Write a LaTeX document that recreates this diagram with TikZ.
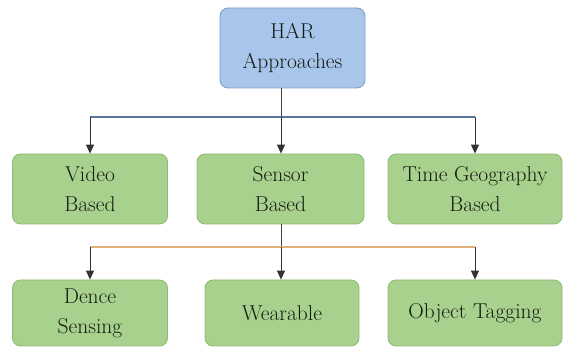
\documentclass[tikz,border=0pt]{standalone}
\usepackage{amsmath}
\usepackage{tikz}
\usetikzlibrary{arrows.meta}
\usepackage{xcolor}

\definecolor{bleuFond}{HTML}{A8C6EC}
\definecolor{bleuBord}{HTML}{7E9CC4}
\definecolor{vertFond}{HTML}{A9D18E}
\definecolor{vertBord}{HTML}{8DB872}
\definecolor{bleuTrait}{HTML}{58769F}
\definecolor{orangeTrait}{HTML}{E2AE7C}
\definecolor{texte}{HTML}{141C14}

\tikzset{
  boite/.style={rounded corners=8pt, line width=0.8pt, align=center,
    inner sep=0pt, text=texte, font=\fontsize{21.5}{30}\selectfont},
  racine/.style={boite, fill=bleuFond, draw=bleuBord},
  feuille/.style={boite, fill=vertFond, draw=vertBord},
  fleche/.style={-{Triangle[length=9pt, width=8pt]}, line width=1pt, draw=black!80},
  trait/.style={line width=1pt, draw=black!75}
}

\begin{document}
\begin{tikzpicture}[x=1pt, y=1pt]
                % Cadre
                \useasboundingbox (0,0) rectangle (563,-347);

                % Racine
                \node[racine, minimum width=145pt, minimum height=80pt] (har) at (292.5,-48) {HAR\\Approaches};

                % Premier niveau
                \node[feuille, minimum width=155pt, minimum height=70pt] (video) at (90,-189) {Video\\Based};
                \node[feuille, minimum width=167pt, minimum height=70pt] (sensor) at (280.5,-189) {Sensor\\Based};
                \node[feuille, minimum width=174pt, minimum height=70pt] (tgeo) at (475,-189) {Time Geography\\Based};

                % Second niveau
                \node[feuille, minimum width=155pt, minimum height=66pt] (dence) at (90,-313) {Dence\\Sensing};
                \node[feuille, minimum width=154pt, minimum height=66pt] (wear) at (282,-313) {Wearable};
                \node[feuille, minimum width=174pt, minimum height=66pt] (otag) at (475,-313) {Object Tagging};

                % Embranchements
                \coordinate (j1) at (281,-117);
                \coordinate (j2) at (281,-247);

                % Racine vers premier niveau
                \draw[trait] (har.south -| j1) -- (j1);
                \draw[line width=1.2pt, bleuTrait] (video.north |- j1) -- (tgeo.north |- j1);
                \draw[fleche] (video.north |- j1) -- (video.north);
                \draw[fleche] (j1) -- (j1 |- sensor.north);
                \draw[fleche] (tgeo.north |- j1) -- (tgeo.north);

                % Sensor vers second niveau
                \draw[trait] (j1 |- sensor.south) -- (j2);
                \draw[line width=1.2pt, orangeTrait] (dence.north |- j2) -- (otag.north |- j2);
                \draw[fleche] (dence.north |- j2) -- (dence.north);
                \draw[fleche] (j2) -- (j2 |- wear.north);
                \draw[fleche] (otag.north |- j2) -- (otag.north);

            \end{tikzpicture}
\end{document}
